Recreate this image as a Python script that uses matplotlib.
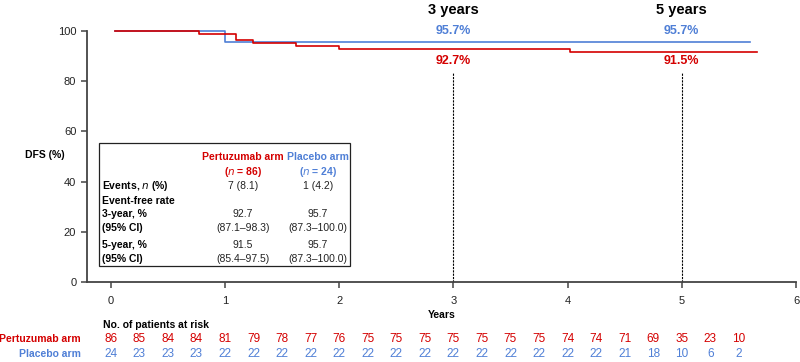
import matplotlib
matplotlib.use("Agg")
import matplotlib.pyplot as plt
import matplotlib.transforms as mtransforms
from matplotlib.patches import Rectangle

plt.rcParams['font.family'] = ['Liberation Sans', 'DejaVu Sans']

RED = '#d40000'
BLUE = '#4f7fd6'

# KM step data (years, DFS %)
pert_t = [0.04, 0.77, 1.10, 1.25, 1.62, 2.00, 4.02, 5.66]
pert_s = [100, 98.8, 96.5, 95.3, 94.0, 92.7, 91.5, 91.5]
plac_t = [0.04, 1.00, 5.60]
plac_s = [100, 95.7, 95.7]

# risk table
risk_times = [i * 0.25 for i in range(23)]
pert_risk = [86, 85, 84, 84, 81, 79, 78, 77, 76, 75, 75, 75, 75, 75, 75, 75, 74, 74, 71, 69, 35, 23, 10]
plac_risk = [24, 23, 23, 23, 22, 22, 22, 22, 22, 22, 22, 22, 22, 22, 22, 22, 22, 22, 21, 18, 10, 6, 2]

# landmark rates
marks = [3, 5]
mark_labels = ['3 years', '5 years']
pert_rate = ['92.7%', '91.5%']
plac_rate = ['95.7%', '95.7%']

# summary table
row_labels = ['Events, $\\mathit{n}$ (%)', 'Event-free rate', '3-year, %', '(95% CI)', '5-year, %', '(95% CI)']
pert_col = ['7 (8.1)', '', '92.7', '(87.1\u201398.3)', '91.5', '(85.4\u201397.5)']
plac_col = ['1 (4.2)', '', '95.7', '(87.3\u2013100.0)', '95.7', '(87.3\u2013100.0)']

W, H = 800, 362
fig = plt.figure(figsize=(8, 3.62), dpi=100)
ax = fig.add_axes([86.7 / W, 1 - 282 / H, (796 - 86.7) / W, (282 - 31) / H])


def fx(x):
    return x / W


def fy(y):
    return 1 - y / H


ax.step(plac_t, plac_s, where='post', color=BLUE, lw=1.2, clip_on=False)
ax.step(pert_t, pert_s, where='post', color=RED, lw=1.2, clip_on=False)

ax.set_xlim(-0.21, 6)
ax.set_ylim(0, 100)
ax.set_xticks(range(7))
ax.set_yticks(range(0, 101, 20))
for s in ['top', 'right']:
    ax.spines[s].set_visible(False)
for s in ['left', 'bottom']:
    ax.spines[s].set_color('#444444')
    ax.spines[s].set_linewidth(1.3)
ax.tick_params(colors='#444444', labelcolor='#222222', labelsize=8, length=4, width=1.1)
ax.tick_params(axis='x', pad=6)
ax.set_xlabel('Years', fontsize=7.5, fontweight='bold', labelpad=3)
fig.text(fx(45), fy(155), 'DFS (%)', fontsize=7.5, fontweight='bold', ha='center', va='center')

bt = mtransforms.blended_transform_factory(ax.transData, fig.transFigure)
for m, lab, pr, bl in zip(marks, mark_labels, pert_rate, plac_rate):
    ax.plot([m, m], [0, 83.5], color='black', lw=0.8, ls=(0, (2, 1)), clip_on=False)
    ax.text(m, fy(10), lab, transform=bt, ha='center', va='center', fontsize=10.5, fontweight='bold')
    ax.text(m, fy(31), bl, transform=bt, ha='center', va='center', fontsize=9, fontweight='bold', color=BLUE)
    ax.text(m, fy(61), pr, transform=bt, ha='center', va='center', fontsize=9, fontweight='bold', color=RED)

# summary box
fig.patches.append(Rectangle((fx(99), fy(266)), (350 - 99) / W, (266 - 143) / H,
                             transform=fig.transFigure, fill=True, facecolor='white',
                             edgecolor='#222222', lw=0.9))
c1, c2 = 243, 318
fs = 7.5
fig.text(fx(c1), fy(157), 'Pertuzumab arm', color=RED, fontsize=fs, fontweight='bold', ha='center', va='center')
fig.text(fx(c2), fy(157), 'Placebo arm', color=BLUE, fontsize=fs, fontweight='bold', ha='center', va='center')
fig.text(fx(c1), fy(172), '($\\mathbf{\\mathit{n}}$ = 86)', color=RED, fontsize=fs, fontweight='bold', ha='center', va='center')
fig.text(fx(c2), fy(172), '($\\mathbf{\\mathit{n}}$ = 24)', color=BLUE, fontsize=fs, fontweight='bold', ha='center', va='center')
row_y = [186, 201, 214, 228, 245, 259]
for lab, a, b, y in zip(row_labels, pert_col, plac_col, row_y):
    fig.text(fx(102), fy(y), lab, fontsize=fs, fontweight='bold', ha='left', va='center')
    fig.text(fx(c1), fy(y), a, fontsize=fs, color='#222222', ha='center', va='center')
    fig.text(fx(c2), fy(y), b, fontsize=fs, color='#222222', ha='center', va='center')

# risk table
fig.text(fx(103), fy(325), 'No. of patients at risk', fontsize=7.5, fontweight='bold', ha='left', va='center')
fig.text(fx(81), fy(339), 'Pertuzumab arm', fontsize=7.5, fontweight='bold', color=RED, ha='right', va='center')
fig.text(fx(81), fy(354), 'Placebo arm', fontsize=7.5, fontweight='bold', color=BLUE, ha='right', va='center')
for t, a, b in zip(risk_times, pert_risk, plac_risk):
    ax.text(t, fy(339), str(a), transform=bt, fontsize=8.5, color=RED, ha='center', va='center', clip_on=False)
    ax.text(t, fy(354), str(b), transform=bt, fontsize=8.5, color=BLUE, ha='center', va='center', clip_on=False)

fig.savefig('out.png', dpi=100)
